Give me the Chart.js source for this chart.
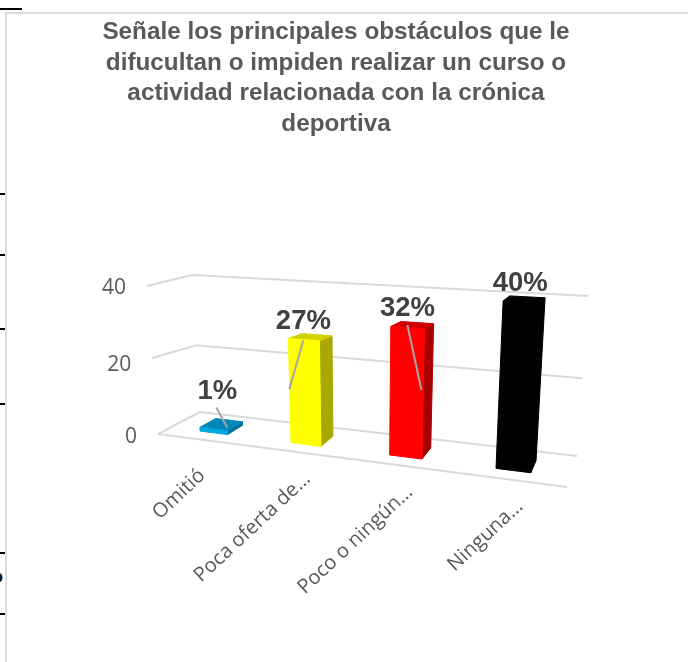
<!DOCTYPE html>
<html><head><meta charset="utf-8">
<script src="https://cdn.jsdelivr.net/npm/chart.js@4"></script>
<style>
html,body{margin:0;padding:0;background:#fff;width:688px;height:662px;overflow:hidden}
#wrap{position:absolute;left:7px;top:14px;width:658px;height:648px}
.f{position:absolute;background:#dcdcdc}
.t{position:absolute;background:#000;left:0;width:5px;height:2px}
#cut{position:absolute;left:-6px;top:566px;font:bold 18px "Liberation Serif";color:#111}
</style></head><body>
<div class="f" style="left:5px;top:12px;width:683px;height:2px"></div>
<div class="f" style="left:5px;top:12px;width:2px;height:650px"></div>
<div class="t" style="left:0;top:8px;width:22px"></div>
<div class="t" style="top:193px"></div><div class="t" style="top:254px"></div>
<div class="t" style="top:328px"></div><div class="t" style="top:403px"></div>
<div class="t" style="top:552px"></div><div class="t" style="top:613px"></div>
<div id="cut">o</div>
<div id="wrap"><canvas id="c"></canvas></div>
<script>
const categories = ["Omitió", "Poca oferta de…", "Poco o ningún…", "Ninguna…"];
const values = [1, 27, 32, 40];
const barColors = ["#00a7e1", "#ffff00", "#ff0000", "#000000"];
const titleLines = ["Señale los principales obstáculos que le",
  "difucultan o impiden realizar un curso o",
  "actividad relacionada con la crónica", "deportiva"];

const OX = 7, OY = 14;
const pt = (x, y) => [x - OX, y - OY];
// 3D frame of the plot: f = front, b = back, 0 = floor, T = top of the value axis, L/R = side
const frame = {
  f0L: pt(158, 434), f0R: pt(567, 487), b0L: pt(200, 412), b0R: pt(577, 456),
  fTL: pt(147, 286), fTR: pt(578, 309), bTL: pt(192, 275), bTR: pt(588, 296)
};
const mix = (a, b, t) => [a[0] + (b[0] - a[0]) * t, a[1] + (b[1] - a[1]) * t];
function solid(u, v, w) {
  const L0 = mix(frame.f0L, frame.b0L, w), R0 = mix(frame.f0R, frame.b0R, w);
  const LT = mix(frame.fTL, frame.bTL, w), RT = mix(frame.fTR, frame.bTR, w);
  return mix(mix(L0, R0, u), mix(LT, RT, u), v);
}
function project(chart, px, py, w) {
  const ca = chart.chartArea;
  let u = (px - ca.left) / (ca.right - ca.left);
  u = u - 0.155 * u * (1 - u);           // horizontal perspective
  let v = (ca.bottom - py) / (ca.bottom - ca.top);
  v = v - (2 * w - 1) * 0.054 * v * (1 - v); // vertical perspective
  return solid(u, v, w);
}
const shade = (hex, k) => {
  const n = parseInt(hex.slice(1), 16);
  return `rgb(${Math.round((n >> 16 & 255) * k)},${Math.round((n >> 8 & 255) * k)},${Math.round((n & 255) * k)})`;
};
function poly(ctx, pts, fill) {
  ctx.beginPath();
  pts.forEach((p, i) => i ? ctx.lineTo(p[0], p[1]) : ctx.moveTo(p[0], p[1]));
  ctx.closePath();
  ctx.fillStyle = fill; ctx.fill();
  ctx.strokeStyle = fill; ctx.lineWidth = 1; ctx.stroke();
}
const BAR_FRONT = 0.3, BAR_BACK = 0.7;
// label offset from the bar's top centre, and leader line [start, end] offsets
const labelOffset = [[-4, -33], [-7, -16], [-5, -17], [-4, -16]];
const leaders = [[[-5, -17], [6, 3]], [[-7, 3], [-21, 52]], [[-5, 0], [9, 65]], null];
const tickNudge = [[-11, 9], [0, 0], [0, 0], [0, 0]];
const yTickNudge = [3, 7, 2];

const scene = {
  id: 'scene',
  beforeDraw(chart) {
    const { x, y } = chart.scales;
    y.getLabelItems().forEach((it, i) => {
      const p = project(chart, chart.chartArea.left, y.getPixelForValue(y.ticks[i].value), 0);
      it.textOffset = 0;
      it.options.textBaseline = 'middle';
      it.options.textAlign = 'right';
      it.options.translation = [p[0] - 21, p[1] + yTickNudge[i]];
    });
    x.getLabelItems().forEach((it, i) => {
      const p = project(chart, x.getPixelForTick(i), y.getPixelForValue(0), 0);
      it.textOffset = 0;
      it.options.textBaseline = 'middle';
      it.options.textAlign = 'right';
      it.options.translation = [p[0] + 11 + tickNudge[i][0], p[1] + 24 + tickNudge[i][1]];
    });
  },
  beforeDatasetsDraw(chart) {
    const { ctx, chartArea: ca } = chart;
    const y = chart.scales.y;
    ctx.save();
    ctx.strokeStyle = '#d9d9d9'; ctx.lineWidth = 2; ctx.lineJoin = 'round';
    y.ticks.forEach(t => {
      const py = y.getPixelForValue(t.value);
      const a = project(chart, ca.left, py, 0), b = project(chart, ca.left, py, 1), c = project(chart, ca.right, py, 1);
      ctx.beginPath(); ctx.moveTo(a[0], a[1]); ctx.lineTo(b[0], b[1]); ctx.lineTo(c[0], c[1]); ctx.stroke();
    });
    const py0 = y.getPixelForValue(0);
    const a = project(chart, ca.left, py0, 0), b = project(chart, ca.right, py0, 0);
    ctx.beginPath(); ctx.moveTo(a[0], a[1]); ctx.lineTo(b[0], b[1]); ctx.stroke();
    ctx.restore();
  },
  beforeDatasetDraw(chart, args) {
    const ctx = chart.ctx;
    const meta = args.meta;
    ctx.save();
    meta.data.forEach((el, i) => {
      const l = el.x - el.width / 2, r = el.x + el.width / 2, t = el.y, b = el.base;
      const P = (px, py, w) => project(chart, px, py, w);
      const col = barColors[i];
      poly(ctx, [P(r, b, BAR_FRONT), P(r, b, BAR_BACK), P(r, t, BAR_BACK), P(r, t, BAR_FRONT)], shade(col, 0.66));
      poly(ctx, [P(l, t, BAR_FRONT), P(r, t, BAR_FRONT), P(r, t, BAR_BACK), P(l, t, BAR_BACK)], shade(col, 0.82));
      poly(ctx, [P(l, b, BAR_FRONT), P(r, b, BAR_FRONT), P(r, t, BAR_FRONT), P(l, t, BAR_FRONT)], col);
    });
    ctx.restore();
    return false;
  },
  afterDatasetsDraw(chart) {
    const ctx = chart.ctx;
    const meta = chart.getDatasetMeta(0);
    ctx.save();
    meta.data.forEach((el, i) => {
      const c = project(chart, el.x, el.y, (BAR_FRONT + BAR_BACK) / 2);
      if (leaders[i]) {
        ctx.strokeStyle = '#a6a6a6'; ctx.lineWidth = 2;
        ctx.beginPath();
        ctx.moveTo(c[0] + leaders[i][0][0], c[1] + leaders[i][0][1]);
        ctx.lineTo(c[0] + leaders[i][1][0], c[1] + leaders[i][1][1]);
        ctx.stroke();
      }
      ctx.font = 'bold 27.5px "Liberation Sans"';
      ctx.fillStyle = '#404040';
      ctx.textAlign = 'center'; ctx.textBaseline = 'middle';
      ctx.fillText(values[i] + '%', c[0] + labelOffset[i][0], c[1] + labelOffset[i][1]);
    });
    ctx.restore();
  }
};

new Chart(document.getElementById('c'), {
  type: 'bar',
  data: { labels: categories, datasets: [{ data: values, backgroundColor: barColors, barPercentage: 0.312, categoryPercentage: 1 }] },
  plugins: [scene],
  options: {
    responsive: true, maintainAspectRatio: false, animation: false,
    layout: { padding: { left: 0, right: 0, bottom: 150 } },
    plugins: {
      legend: { display: false }, tooltip: { enabled: false },
      title: { display: true, text: titleLines, color: '#595959',
        font: { family: '"Liberation Sans"', size: 24.3, weight: 'bold', lineHeight: 1.26 },
        padding: { top: 3, bottom: 130 } }
    },
    scales: {
      x: { grid: { display: false }, border: { display: false },
        ticks: { mirror: true, autoSkip: false, minRotation: 43, maxRotation: 43, color: '#595959', font: { family: '"Open Sans"', size: 20 } } },
      y: { min: 0, max: 40, grid: { display: false }, border: { display: false },
        ticks: { mirror: true, stepSize: 20, color: '#595959', font: { family: '"Open Sans"', size: 21 } } }
    }
  }
});
</script>
</body></html>
